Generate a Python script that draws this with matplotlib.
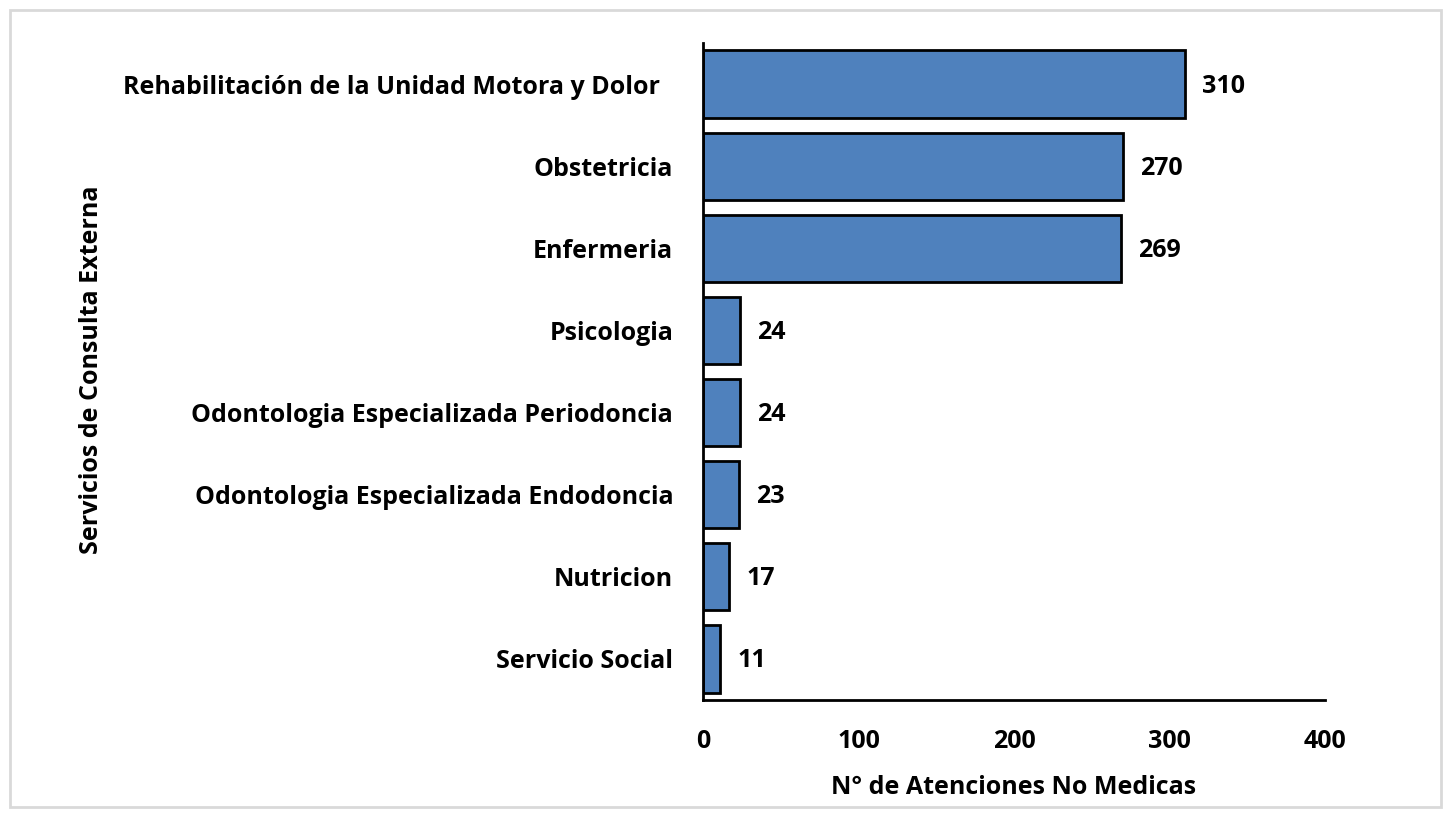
import matplotlib
matplotlib.use("Agg")
import matplotlib.pyplot as plt
from matplotlib.patches import Rectangle

categories = ["Rehabilitación de la Unidad Motora y Dolor  ", "Obstetricia", "Enfermeria",
              "Psicologia", "Odontologia Especializada Periodoncia",
              "Odontologia Especializada Endodoncia", "Nutricion", "Servicio Social"]
values = [310, 270, 269, 24, 24, 23, 17, 11]
xticks = [0, 100, 200, 300, 400]

plt.rcParams['font.family'] = ['Open Sans', 'DejaVu Sans']
FS = 18
W, H = 1451, 817
fig = plt.figure(figsize=(W/100, H/100), dpi=100)
ax = fig.add_axes([703/W, 1-700/H, (1325-703)/W, (700-43)/H])

n = len(categories)
ypos = list(range(n))
ax.barh(ypos, values, height=0.82, color='#4f81bd', edgecolor='black', linewidth=2)
ax.set_ylim(n-0.5, -0.5)
ax.set_xlim(0, 400)
ax.set_xticks(xticks)
ax.set_xticklabels([str(t) for t in xticks], fontsize=FS, fontweight='bold')
ax.set_yticks(ypos)
ax.set_yticklabels(categories, fontsize=FS, fontweight='bold')
ax.tick_params(length=0, pad=21.5, axis='y')
ax.tick_params(length=0, pad=21, axis='x')
for s in ['top', 'right']:
    ax.spines[s].set_visible(False)
for s in ['left', 'bottom']:
    ax.spines[s].set_linewidth(2)

for y, v in zip(ypos, values):
    ax.annotate(str(v), (v, y), xytext=(17, -2), textcoords='offset pixels',
                va='center', ha='left', fontsize=FS, fontweight='bold')

ax.set_xlabel("N° de Atenciones No Medicas", fontsize=FS, fontweight='bold', labelpad=15)
fig.text(92/W, 1-370/H, "Servicios de Consulta Externa", rotation=90, fontsize=FS,
         fontweight='bold', ha='center', va='center')

fig.patches.append(Rectangle((10/W, 10/H), 1-20/W, 1-20/H, transform=fig.transFigure,
                             fill=False, edgecolor='#d9d9d9', linewidth=2))
fig.savefig("out.png", dpi=100)
